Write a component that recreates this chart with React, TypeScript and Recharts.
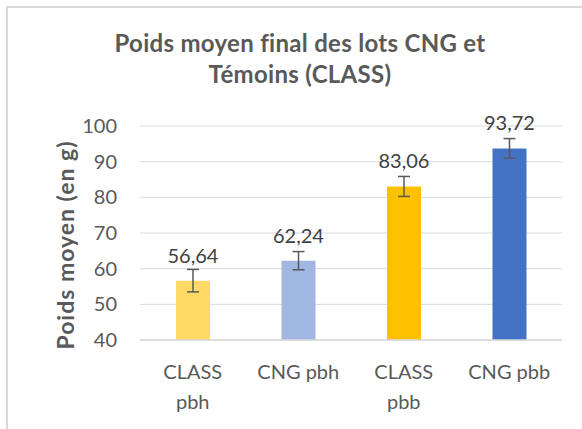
import React from 'react';
import { BarChart, Bar, XAxis, YAxis, CartesianGrid, ErrorBar, LabelList, Cell } from 'recharts';

const categories = ['CLASS pbh', 'CNG pbh', 'CLASS pbb', 'CNG pbb'];
const categoryLines = [['CLASS', 'pbh'], ['CNG pbh'], ['CLASS', 'pbb'], ['CNG pbb']];
const weights = [56.64, 62.24, 83.06, 93.72];
const errors = [3.15, 2.55, 2.8, 2.75];
const yTicks = [40, 50, 60, 70, 80, 90, 100];
const titleLines = ['Poids moyen final des lots CNG et', 'Témoins (CLASS)'];
const yLabel = 'Poids moyen (en g)';

const barColors = ['#FFD966', '#A0B7E1', '#FFC000', '#4472C4'];
const FONT = 'Lato, "Liberation Sans", sans-serif';
const TEXT = '#595959';

const data = categories.map((c, i) => ({ name: c, value: weights[i], err: errors[i] }));

const XTick = (props: any) => {
  const { x, y, index } = props;
  const lines = categoryLines[index] ?? [String(props.payload?.value ?? '')];
  return (
    <text x={x} y={y} textAnchor="middle" fill={TEXT} fontFamily={FONT} fontSize={20}>
      {lines.map((l: string, i: number) => (
        <tspan key={i} x={x} y={y + 39 + i * 30}>{l}</tspan>
      ))}
    </text>
  );
};

export default function App() {
  return (
    <div style={{ position: 'absolute', left: 0, top: 0, width: 582, height: 429, overflow: 'hidden', background: '#fff' }}>
      <div style={{ position: 'absolute', left: 6, top: 6, width: 700, height: 600, borderTop: '2px solid #D9D9D9', borderLeft: '2px solid #D9D9D9', boxSizing: 'border-box' }} />
      <div style={{ position: 'absolute', left: 0, top: 0 }}>
        <BarChart width={582} height={429} data={data} margin={{ top: 126, right: 20, bottom: 0, left: 0 }}>
          <CartesianGrid vertical={false} stroke="#D9D9D9" strokeWidth={1} />
          <XAxis
            dataKey="name"
            height={89}
            axisLine={{ stroke: '#D9D9D9', strokeWidth: 1.5 }}
            tickLine={false}
            tickSize={0}
            tickMargin={0}
            interval={0}
            tick={<XTick />}
          />
          <YAxis
            width={140}
            domain={[40, 100]}
            ticks={yTicks}
            axisLine={false}
            tickLine={false}
            tickSize={0}
            tickMargin={23}
            tick={{ fill: TEXT, fontSize: 20, fontFamily: FONT }}
          />
          <Bar dataKey="value" barSize={34} isAnimationActive={false}>
            {data.map((d, i) => (
              <Cell key={d.name} fill={barColors[i]} />
            ))}
            <ErrorBar dataKey="err" width={6} stroke="#595959" strokeWidth={1.5} direction="y" isAnimationActive={false} />
            <LabelList
              dataKey="value"
              position="top"
              offset={18}
              formatter={(v: any) => Number(v).toFixed(2).replace('.', ',')}
              fill="#404040"
              fontSize={20}
              fontFamily={FONT}
            />
          </Bar>
        </BarChart>
      </div>
      <svg width={582} height={429} style={{ position: 'absolute', left: 0, top: 0, pointerEvents: 'none' }}>
        <text x={300} y={52} textAnchor="middle" fill={TEXT} fontFamily={FONT} fontWeight="bold" fontSize={24} letterSpacing={0.3}>{titleLines[0]}</text>
        <text x={300} y={83} textAnchor="middle" fill={TEXT} fontFamily={FONT} fontWeight="bold" fontSize={24} letterSpacing={0.3}>{titleLines[1]}</text>
        <text transform="translate(74,245) rotate(-90)" textAnchor="middle" fill={TEXT} fontFamily={FONT} fontWeight="bold" fontSize={23} letterSpacing={1}>{yLabel}</text>
      </svg>
    </div>
  );
}
